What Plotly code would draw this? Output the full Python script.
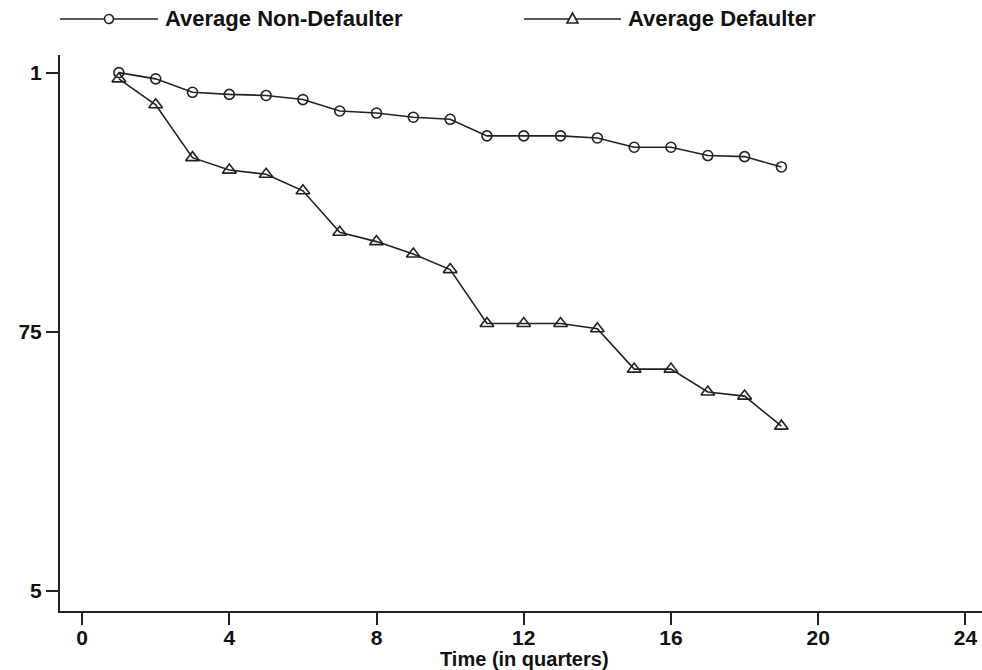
import plotly.graph_objects as go

quarters = list(range(1, 20))
non_defaulter = [1.000, 0.994, 0.981, 0.979, 0.978, 0.974, 0.963, 0.961, 0.957, 0.955,
                 0.939, 0.939, 0.939, 0.937, 0.928, 0.928, 0.920, 0.919, 0.909]
defaulter = [0.994, 0.969, 0.918, 0.906, 0.902, 0.886, 0.846, 0.837, 0.825, 0.810,
             0.758, 0.758, 0.758, 0.753, 0.714, 0.714, 0.692, 0.688, 0.659]
x_ticks = [0, 4, 8, 12, 16, 20, 24]
y_ticks = [0.5, 0.75, 1.0]
y_ticktext = ["5", "75", "1"]

INK = "#222222"
FONT = "Liberation Sans"

fig = go.Figure()
fig.add_trace(go.Scatter(
    x=quarters, y=non_defaulter, mode="lines+markers", name="Average Non-Defaulter",
    line=dict(color=INK, width=1.6),
    marker=dict(symbol="circle-open", size=10, color=INK, line=dict(width=1.6))))
fig.add_trace(go.Scatter(
    x=quarters, y=defaulter, mode="lines+markers", name="Average Defaulter",
    line=dict(color=INK, width=1.6),
    marker=dict(symbol="triangle-up-open", size=12, color=INK, line=dict(width=1.6))))

# paper coords: plot area spans x 60..982, y 55..611 (screen pixels)
W, H = 922.0, 556.0
def px(x):
    return (x - 60) / W
def py(y):
    return (611 - y) / H


def legend_item(x0, x1, y, symbol, text):
    fig.add_shape(type="line", xref="paper", yref="paper", x0=x0, x1=x1, y0=y, y1=y,
                  line=dict(color=INK, width=1.6))
    xm = (x0 + x1) / 2
    if symbol == "circle":
        fig.add_shape(type="circle", xref="paper", yref="paper", xsizemode="pixel",
                      ysizemode="pixel", xanchor=xm, yanchor=y, x0=-4.5, x1=4.5, y0=-4.5, y1=4.5,
                      line=dict(color=INK, width=1.6), fillcolor="white")
    else:
        fig.add_shape(type="path", xref="paper", yref="paper", xsizemode="pixel",
                      ysizemode="pixel", xanchor=xm, yanchor=y,
                      path="M -5.5 -4 L 5.5 -4 L 0 6 Z",
                      line=dict(color=INK, width=1.6), fillcolor="white")
    fig.add_annotation(xref="paper", yref="paper", x=x1 + 0.006, y=y, text=text,
                       showarrow=False, xanchor="left", yanchor="middle", borderpad=0,
                       font=dict(family=FONT, size=22, color="#111"))


legend_item(px(60), px(158), py(19), "circle", "<b>Average Non-Defaulter</b>")
legend_item(px(524), px(621), py(19), "triangle", "<b>Average Defaulter</b>")

fig.add_annotation(xref="paper", yref="paper", x=px(524), y=py(659), text="<b>Time (in quarters)</b>",
                   showarrow=False, xanchor="center", yanchor="middle", borderpad=0,
                   font=dict(family=FONT, size=20, color="#111"))

fig.update_layout(
    width=982, height=670,
    margin=dict(l=60, r=0, t=55, b=670 - 611, autoexpand=False),
    paper_bgcolor="white", plot_bgcolor="white",
    showlegend=False,
    font=dict(family=FONT, color="#111", size=21),
    xaxis=dict(range=[-0.6, 24.45], tickvals=x_ticks, ticktext=["<b>%d</b>" % t for t in x_ticks],
               showgrid=False, zeroline=False,
               showline=True, linecolor=INK, linewidth=2, ticks="outside", ticklen=12,
               tickwidth=2, tickcolor=INK, tickfont=dict(size=21, family=FONT),
               ticklabelstandoff=-5, ticklabeloverflow="allow"),
    yaxis=dict(range=[0.4807, 1.017], tickvals=y_ticks, ticktext=["<b>%s</b>" % t for t in y_ticktext],
               showgrid=False, zeroline=False, showline=True, linecolor=INK, linewidth=2,
               ticks="outside", ticklen=12, tickwidth=2, tickcolor=INK,
               tickfont=dict(size=21, family=FONT)),
)

# drop the default 8px body margin so the figure sits at the window's corner
fig.write_html("out.html", config={"displayModeBar": False},
               post_script="document.body.style.margin='0';")
